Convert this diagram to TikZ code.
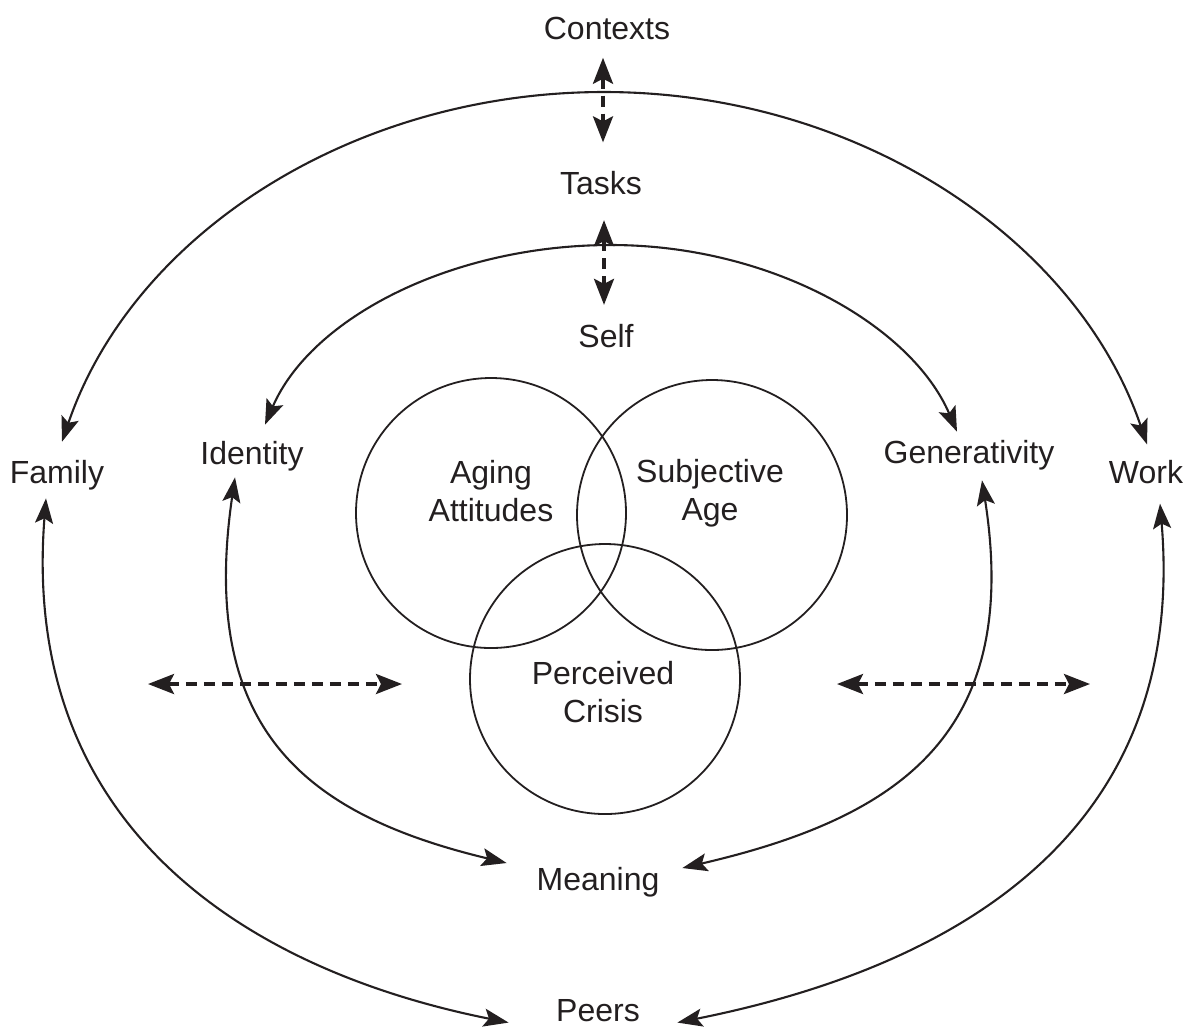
\documentclass[tikz,border=0pt]{standalone}
\usepackage{fontspec}
\setmainfont{Liberation Sans}
\usetikzlibrary{arrows.meta}
\definecolor{ink}{RGB}{35,31,32}

\begin{document}
\begin{tikzpicture}[x=0.5pt,y=-0.5pt]
  \tikzset{word/.style = {inner sep=0pt,text=ink,font=\fontsize{16}{19}\selectfont,align=center}}
  \tikzset{ring/.style = {shape=circle,draw=ink,line width=0.9pt,minimum size=135pt,inner sep=0pt}}
  \tikzset{twoway/.style = {draw=ink,line width=1.05pt,<->,>={Stealth[length=12.5pt,width=9pt,inset=2.5pt]}}}
  \tikzset{dashway/.style = {draw=ink,line width=1.7pt,dash pattern=on 5.5pt off 3.5pt,<->,>={Stealth[length=13pt,width=10pt,inset=2.5pt]}}}

  \useasboundingbox (0,0) rectangle (1187,1030);

	\node[word] (contexts) at (607,28) {Contexts};
	\node[word] (tasks) at (601,183) {Tasks};
	\node[word] (self) at (606,336) {Self};
	\node[word] (family) at (57,475) {Family};
	\node[word] (identity) at (252,456) {Identity};
	\node[word] (generativity) at (969,455) {Generativity};
	\node[word] (work) at (1146,472) {Work};
	\node[word] (meaning) at (598,882) {Meaning};
	\node[word] (peers) at (598,1011) {Peers};

	\node[ring] (aging) at (491,513) {};
	\node[ring] (subjective) at (712,515) {};
	\node[ring] (crisis) at (605,679) {};
	\node[word] (agingtxt) at (491,491) {Aging\\Attitudes};
	\node[word] (subjectivetxt) at (710,493) {Subjective\\Age};
	\node[word] (crisistxt) at (603,692) {Perceived\\Crisis};

	\coordinate (outertop) at (604,92);
	\coordinate (innertop) at (611,245);
	\coordinate (leftfrom) at (148,684);
	\coordinate (leftto) at (402,684);
	\coordinate (rightfrom) at (837,684);
	\coordinate (rightto) at (1090,684);

	% top arcs
	\draw[twoway] ([xshift=2.5pt,yshift=9pt]family.north) .. controls +(71,-208) and +(-251,0) .. (outertop)
	  .. controls +(251,0) and +(-71,-208) .. ([xshift=0.5pt,yshift=7.75pt]work.north);
	\draw[twoway] ([xshift=6.5pt,yshift=8pt]identity.north) .. controls +(46,-107) and +(-159,0) .. (innertop)
	  .. controls +(159,0) and +(-46,-107) .. ([xshift=-6pt,yshift=4pt]generativity.north);

	% bottom arcs
	\draw[twoway] ([xshift=-5.5pt,yshift=-4pt]family.south) .. controls +(-26,330) and +(-260,-52) .. ([xshift=-23.6pt]peers.south west);
	\draw[twoway] ([xshift=7pt,yshift=-9.75pt]work.south) .. controls +(28,335) and +(270,-54) .. ([xshift=18.6pt]peers.south east);
	\draw[twoway] ([xshift=-8.5pt,yshift=-3pt]identity.south) .. controls +(-37,253) and +(-200,-48) .. ([xshift=-14.8pt,yshift=9.5pt]meaning.west);
	\draw[twoway] ([xshift=6.5pt,yshift=-5pt]generativity.south) .. controls +(40,255) and +(215,-50) .. ([xshift=11.3pt,yshift=7pt]meaning.east);

	% dashed links
	\draw[dashway] ([xshift=-2pt,yshift=-9pt]contexts.south) -- ([xshift=1pt,yshift=14.25pt]tasks.north);
	\draw[dashway] ([xshift=1.5pt,yshift=-12.5pt]tasks.south) -- ([xshift=-1pt,yshift=9.5pt]self.north);
	\foreach \from/\to in {leftfrom/leftto, rightfrom/rightto}
	\draw[dashway] (\from) -- (\to);
\end{tikzpicture}
\end{document}
